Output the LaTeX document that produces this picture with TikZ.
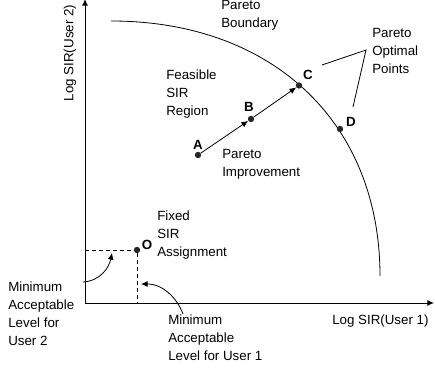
\documentclass[tikz,border=0pt]{standalone}
\usepackage{fontspec}
\setmainfont{Liberation Sans}
\usetikzlibrary{arrows.meta}

\begin{document}
\begin{tikzpicture}[x=0.75pt,y=-0.75pt,font=\fontsize{10}{13.5}\selectfont]
       \tikzstyle{txt} = [align=left, anchor=west, inner sep=0pt];
       \tikzstyle{dot} = [circle, fill=black!85, inner sep=0pt, minimum size=4.8pt];
       \tikzstyle{letter} = [font=\fontsize{10}{12}\selectfont\bfseries, inner sep=0pt];
       \tikzstyle{axis} = [line width=0.75pt, -{Latex[length=5pt,width=4.5pt]}];
       \tikzstyle{fine} = [line width=0.6pt];
       \tikzstyle{guide} = [line width=0.75pt, dash pattern=on 3pt off 2.2pt];
       \tikzstyle{tip} = [-{Latex[length=5pt,width=4.5pt]}];

       \useasboundingbox (0,0) rectangle (435,370);

       % axes
       \coordinate (origin) at (85,303);
       \coordinate (xend) at (434,303);
       \coordinate (yend) at (85,-1);
       \draw[axis] (origin) -- (xend);
       \draw[axis] (origin) -- (yend);
       \node[rotate=90] (ylabel) at (70,53) {Log SIR(User 2)};
       \node[txt] (xlabel) at (332,321) {Log SIR(User 1)};

       % pareto boundary
       \coordinate (bstart) at (111,21);
       \coordinate (bend) at (380,276);
       \draw[fine] (bstart) .. controls (272,21) and (380,122) .. (bend);

       % points
       \node[dot] (a) at (198,155) {};
       \node[dot] (b) at (251,119) {};
       \node[dot] (c) at (299,85.5) {};
       \node[dot] (d) at (340,129) {};
       \node[dot] (o) at (137,250) {};
       \node[letter] at (198,145) {A};
       \node[letter] at (249,107) {B};
       \node[letter] at (308,75) {C};
       \node[letter] at (351,122) {D};
       \node[letter] at (147,245) {O};

       \draw[fine, tip] (a) -- (b);
       \draw[fine, tip] (b) -- (c);

       % minimum levels
       \coordinate (yfoot) at (85,250);
       \coordinate (xfoot) at (137,303);
       \draw[guide] (yfoot) -- (o);
       \draw[guide] (o) -- (xfoot);

       % labels
       \node[txt] (boundary) at (221,15) {Pareto\\Boundary};
       \node[txt] (optimal) at (372,51) {Pareto\\Optimal\\Points};
       \node[txt] (feasible) at (166,94) {Feasible\\SIR\\Region};
       \node[txt] (improvement) at (222,164) {Pareto\\Improvement};
       \node[txt] (fixed) at (157,235) {Fixed\\SIR\\Assignment};
       \node[txt] (minuser2) at (8,314) {Minimum\\Acceptable\\Level for\\User 2};
       \node[txt] (minuser1) at (168,338) {Minimum\\Acceptable\\Level for User 1};

       % pointers
       \coordinate (fork) at (366,50);
       \coordinate (forkc) at (322,65);
       \coordinate (forkd) at (353,107);
       \draw[fine] (forkc) -- (fork) -- (forkd);

       \coordinate (min2tail) at (83,282);
       \coordinate (min2head) at (112,253);
       \draw[fine, tip] (min2tail) .. controls (100,281) and (109,268) .. (min2head);
       \coordinate (min1tail) at (183,314);
       \coordinate (min1head) at (141,284);
       \draw[fine, tip] (min1tail) .. controls (177,298) and (163,284) .. (min1head);
\end{tikzpicture}
\end{document}
